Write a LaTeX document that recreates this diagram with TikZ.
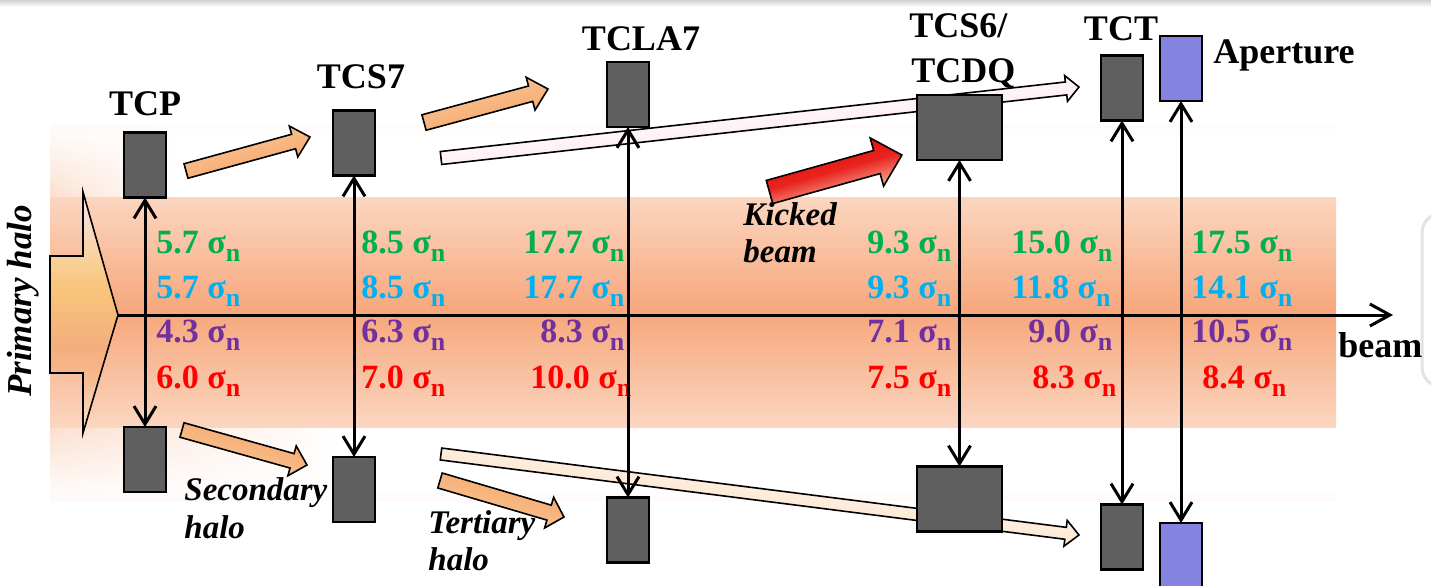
\documentclass[tikz,border=0pt]{standalone}
\usepackage{fontspec}
\setmainfont{Liberation Serif}
\usetikzlibrary{arrows.meta,fadings}
\definecolor{cgreen}{HTML}{00B050}
\definecolor{cblue}{HTML}{00B0F0}
\definecolor{cpurple}{HTML}{7030A0}
\definecolor{cred}{HTML}{FF0000}
\definecolor{boxgray}{HTML}{5F5F5F}
\definecolor{apblue}{HTML}{8484E0}
\definecolor{bandfaint}{HTML}{FFFAF8}
\definecolor{bandlight}{HTML}{FCDFCF}
\definecolor{bandedge}{HTML}{FBD6C0}
\definecolor{bandmid}{HTML}{F6A77C}
\definecolor{orlight}{HTML}{FBCDA0}
\definecolor{ordark}{HTML}{F4A062}
\definecolor{pinkwhite}{HTML}{FFF3F7}
\definecolor{peach}{HTML}{FBDDC4}
\definecolor{kred}{HTML}{E40000}
\definecolor{kpale}{HTML}{FFEFCF}
\definecolor{hA}{HTML}{F9E4F2}
\definecolor{hB}{HTML}{F9D2A0}
\definecolor{hC}{HTML}{F8C57A}
\definecolor{hD}{HTML}{F4AE7E}
\definecolor{hE}{HTML}{F6B88E}
\definecolor{hF}{HTML}{FBE4CC}
\pgfdeclareverticalshading{haloshade}{100bp}{color(0bp)=(hF); color(25bp)=(hF); color(37bp)=(hE); color(43bp)=(hD); color(55bp)=(hC); color(62bp)=(hB); color(75bp)=(hA); color(100bp)=(hA)}
\newcommand\sgm{σ\raisebox{-0.24em}{\fontsize{13pt}{13pt}\selectfont n}}
% block arrow: tail coord, tip coord, half shaft, half head, head length (pt), shading options
\newcommand\barrow[6]{%
  \pgfpointanchor{#1}{center}\pgfgetlastxy\bax\bay
  \pgfpointanchor{#2}{center}\pgfgetlastxy\bbx\bby
  \pgfmathsetmacro\bdx{\bbx-\bax}%
  \pgfmathsetmacro\bdy{\bby-\bay}%
  \pgfmathsetmacro\bang{atan2(\bdy,\bdx)}%
  \pgfmathsetlengthmacro\blen{veclen(\bdx,\bdy)}%
  \pgfmathsetlengthmacro\bbase{veclen(\bdx,\bdy)-#5}%
  \begin{scope}[shift={(#1)}, rotate=\bang]
    \shade[blk, #6, shading angle=\bang] (0pt,-#3pt) -- (\bbase,-#3pt) -- (\bbase,-#4pt) -- (\blen,0pt) -- (\bbase,#4pt) -- (\bbase,#3pt) -- (0pt,#3pt) -- cycle;
  \end{scope}}
\tikzset{
  coll/.style={draw=black, line width=1.2pt, fill=boxgray, inner sep=0pt, outer sep=0pt, minimum width=21pt, minimum height=32.5pt},
  vv/.style={line width=1.5pt, {Straight Barb[length=9pt,width=11pt]}-{Straight Barb[length=9pt,width=11pt]}},
  blk/.style={draw=black, line width=0.8pt, line join=miter},
  lab/.style={font=\fontsize{18pt}{20pt}\selectfont\bfseries, inner sep=0pt},
  itlab/.style={font=\fontsize{16.5pt}{18pt}\selectfont\bfseries\itshape, inner sep=0pt, anchor=base west},
  num/.style={font=\fontsize{17pt}{19pt}\selectfont\bfseries, inner sep=0pt, anchor=base west}
}
\begin{document}
\begin{tikzpicture}[x=0.5pt, y=-0.5pt]
\useasboundingbox (0,0) rectangle (1431,585);
\clip (0,0) rectangle (1431,585);
\fill[white] (0,0) rectangle (1431,585);
% slide remnants
\shade[top color=gray!35, bottom color=white] (0,0) rectangle (1431,7);
\draw[gray!22, line width=1.5pt, rounded corners=10pt] (1470,213) -- (1422,213) -- (1422,387) -- (1470,387);
% faint outer halo band
\shade[top color=bandfaint, bottom color=white] (50,125) rectangle (1336,137);
\shade[top color=white, bottom color=bandfaint] (50,488) rectangle (1336,500);
\shade[left color=bandlight, right color=white, path fading=north] (50,125) rectangle (175,198);
\shade[left color=bandlight, right color=white, path fading=south] (50,426) rectangle (340,500);
% inner halo band
\shade[top color=bandedge, bottom color=bandedge, middle color=bandmid] (50,197) rectangle (1336,427);
% primary halo arrow
\shade[shading=haloshade, draw=black, line width=0.8pt, line join=miter] (50,256) -- (83,256) -- (83,192) -- (118,315) -- (83,433) -- (83,373) -- (50,373) -- cycle;
\node[font=\fontsize{17.5pt}{19pt}\selectfont\bfseries\itshape, rotate=90, anchor=base, inner sep=0pt] (primlab) at (32,301) {Primary halo};
% beam axis
\coordinate (halotip) at (118,315);
\coordinate (beamend) at (1393,315);
\draw[line width=1.5pt, -{Straight Barb[length=10pt,width=11pt]}] (halotip) -- (beamend);
% block arrows
\coordinate (a1s) at (186,171);   \coordinate (a1e) at (310,137);
\coordinate (a2s) at (424,122.5); \coordinate (a2e) at (548,89);
\coordinate (a3s) at (441,158);   \coordinate (a3e) at (1079,87);
\coordinate (a4s) at (769.5,192); \coordinate (a4e) at (902,155);
\coordinate (a5s) at (182,430);   \coordinate (a5e) at (307,465);
\coordinate (a6s) at (440,480.5); \coordinate (a6e) at (564,517);
\coordinate (a7s) at (441,454);   \coordinate (a7e) at (1079,535);
\barrow{a1s}{a1e}{3.75}{8}{8.5}{top color=orlight, bottom color=ordark}
\barrow{a2s}{a2e}{4}{8.5}{9}{top color=orlight, bottom color=ordark}
\barrow{a3s}{a3e}{3.25}{6.5}{6.5}{top color=pinkwhite, bottom color=peach, middle color=pinkwhite}
\barrow{a4s}{a4e}{6}{12.5}{13}{top color=kred, bottom color=kpale, middle color=kred!85!kpale}
\barrow{a5s}{a5e}{3.75}{7.75}{7.75}{top color=ordark, bottom color=orlight}
\barrow{a6s}{a6e}{3.9}{8}{7.75}{top color=ordark, bottom color=orlight}
\barrow{a7s}{a7e}{3}{6.5}{6.75}{top color=white, bottom color=ordark!85!white, middle color=white!60!orlight}
% sigma values
\node[num, text=cgreen]  (g1) at (156,253) {5.7 \sgm};
\node[num, text=cblue]   (b1) at (156,298) {5.7 \sgm};
\node[num, text=cpurple] (p1) at (156,342) {4.3 \sgm};
\node[num, text=cred]    (r1) at (156,388) {6.0 \sgm};
\node[num, text=cgreen]  (g2) at (361,253) {8.5 \sgm};
\node[num, text=cblue]   (b2) at (361,298) {8.5 \sgm};
\node[num, text=cpurple] (p2) at (361,342) {6.3 \sgm};
\node[num, text=cred]    (r2) at (361,388) {7.0 \sgm};
\node[num, text=cgreen]  (g3) at (523,253) {17.7 \sgm};
\node[num, text=cblue]   (b3) at (523,298) {17.7 \sgm};
\node[num, text=cpurple] (p3) at (540,342) {8.3 \sgm};
\node[num, text=cred]    (r3) at (530,388) {10.0 \sgm};
\node[num, text=cgreen]  (g4) at (867,253) {9.3 \sgm};
\node[num, text=cblue]   (b4) at (867,298) {9.3 \sgm};
\node[num, text=cpurple] (p4) at (867,342) {7.1 \sgm};
\node[num, text=cred]    (r4) at (867,388) {7.5 \sgm};
\node[num, text=cgreen]  (g5) at (1011,253) {15.0 \sgm};
\node[num, text=cblue]   (b5) at (1011,298) {11.8 \sgm};
\node[num, text=cpurple] (p5) at (1028,342) {9.0 \sgm};
\node[num, text=cred]    (r5) at (1032,388) {8.3 \sgm};
\node[num, text=cgreen]  (g6) at (1191,253) {17.5 \sgm};
\node[num, text=cblue]   (b6) at (1191,298) {14.1 \sgm};
\node[num, text=cpurple] (p6) at (1191,342) {10.5 \sgm};
\node[num, text=cred]    (r6) at (1202,388) {8.4 \sgm};
% collimators
\node[coll] (tcpT) at (145,165) {};
\node[coll] (tcpB) at (145,459.5) {};
\node[coll] (tcs7T) at (354,143) {};
\node[coll] (tcs7B) at (354,489.5) {};
\node[coll] (tclaT) at (628,94.5) {};
\node[coll] (tclaB) at (628,530) {};
\node[coll, minimum width=42.5pt] (tcs6T) at (959.5,127.5) {};
\node[coll, minimum width=42.5pt] (tcs6B) at (959.5,499) {};
\node[coll] (tctT) at (1122,88) {};
\node[coll] (tctB) at (1122,537) {};
\node[coll, fill=apblue] (apT) at (1181,68.5) {};
\node[coll, fill=apblue] (apB) at (1181,555.5) {};
% aperture arrows
\draw[vv] (tcpT.south) -- (tcpB.north);
\draw[vv] (tcs7T.south) -- (tcs7B.north);
\draw[vv] (tclaT.south) -- (tclaB.north);
\draw[vv] (tcs6T.south) -- (tcs6B.north);
\draw[vv] (tctT.south) -- (tctB.north);
\draw[vv] (apT.south) -- (apB.north);
% labels
\node[lab, anchor=base] (lTCP) at (145,115) {TCP};
\node[lab, anchor=base] (lTCS7) at (361,88) {TCS7};
\node[lab, anchor=base] (lTCLA) at (641,50) {TCLA7};
\node[lab, anchor=base west] (lTCS6) at (909,37) {TCS6/};
\node[lab, anchor=base west] (lTCDQ) at (911,82) {TCDQ};
\node[lab, anchor=base] (lTCT) at (1121,40) {TCT};
\node[lab, anchor=base west] (lAp) at (1213,63) {Aperture};
\node[lab, anchor=base west] (lbeam) at (1338,357) {beam};
\node[itlab] (kick1) at (743,225) {Kicked};
\node[itlab] (kick2) at (743,262) {beam};
\node[itlab] (sec1) at (184,500) {Secondary};
\node[itlab] (sec2) at (184,538) {halo};
\node[itlab] (ter1) at (428,533) {Tertiary};
\node[itlab] (ter2) at (428,570) {halo};
\end{tikzpicture}
\end{document}
